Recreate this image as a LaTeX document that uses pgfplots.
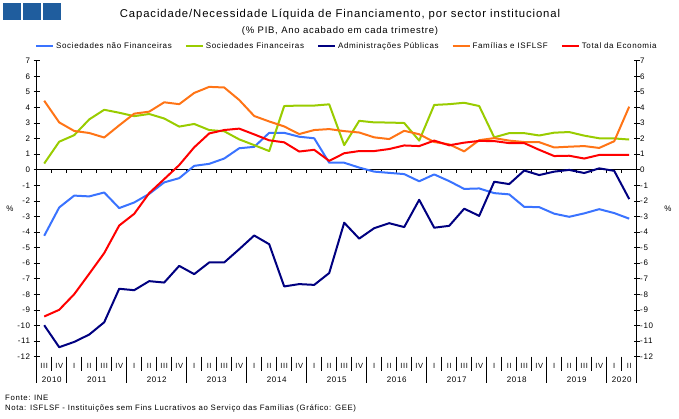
\documentclass[border=0pt]{standalone}
\usepackage{fontspec}
\setmainfont{Liberation Sans}[LetterSpace=8]
\usepackage{pgfplots}
\usepackage{pgfplotstable}
\pgfplotsset{compat=1.18}
\definecolor{cBlue}{HTML}{3A73FF}
\definecolor{cGreen}{HTML}{99CC00}
\definecolor{cNavy}{HTML}{000080}
\definecolor{cOrange}{HTML}{FF7416}
\definecolor{cRed}{HTML}{FF0000}
\definecolor{cSq}{HTML}{1F5D9E}
\pgfplotstableread{
x snf sf ap fam tot
0 -4.24 0.40 -9.98 4.43 -9.42
1 -2.42 1.80 -11.39 3.04 -8.99
2 -1.66 2.22 -11.05 2.49 -7.99
3 -1.71 3.23 -10.58 2.36 -6.68
4 -1.46 3.85 -9.79 2.07 -5.35
5 -2.46 3.66 -7.64 2.85 -3.58
6 -2.10 3.44 -7.73 3.60 -2.83
7 -1.55 3.58 -7.15 3.73 -1.50
8 -0.81 3.29 -7.24 4.33 -0.60
9 -0.54 2.77 -6.17 4.21 0.30
10 0.25 2.94 -6.70 4.93 1.44
11 0.38 2.55 -5.95 5.32 2.33
12 0.72 2.47 -5.95 5.28 2.55
13 1.38 1.95 -5.10 4.48 2.64
14 1.47 1.58 -4.22 3.45 2.27
15 2.37 1.20 -4.78 3.10 1.89
16 2.37 4.09 -7.49 2.78 1.76
17 2.12 4.12 -7.34 2.29 1.17
18 2.02 4.12 -7.39 2.55 1.28
19 0.45 4.20 -6.63 2.61 0.57
20 0.45 1.58 -3.40 2.48 1.06
21 0.14 3.14 -4.42 2.39 1.20
22 -0.12 3.04 -3.75 2.08 1.20
23 -0.20 3.03 -3.43 1.97 1.33
24 -0.28 3.00 -3.68 2.50 1.56
25 -0.74 1.87 -1.93 2.28 1.52
26 -0.30 4.16 -3.72 1.78 1.87
27 -0.73 4.21 -3.60 1.63 1.57
28 -1.23 4.30 -2.50 1.18 1.74
29 -1.20 4.09 -2.96 1.90 1.85
30 -1.50 2.08 -0.77 2.03 1.84
31 -1.58 2.35 -0.92 1.87 1.71
32 -2.38 2.35 -0.05 1.78 1.71
33 -2.40 2.20 -0.34 1.77 1.28
34 -2.82 2.38 -0.12 1.43 0.88
35 -3.02 2.42 -0.01 1.48 0.90
36 -2.80 2.19 -0.21 1.52 0.72
37 -2.53 2.02 0.09 1.40 0.95
38 -2.78 2.01 -0.07 1.83 0.95
39 -3.14 1.94 -1.88 4.05 0.95
}\data
\begin{document}
\begin{tikzpicture}
\path (0pt,0pt) rectangle (679pt,418pt);
\foreach \xa in {3,23,43} \fill[cSq] (\xa pt,398pt) rectangle ++(18pt,17pt);
\node at (340pt,403pt) {\fontsize{11.3}{13}\selectfont Capacidade/Necessidade Líquida de Financiamento, por sector institucional};
\node at (340pt,387pt) {\fontsize{9.5}{11}\selectfont (\% PIB, Ano acabado em cada trimestre)};
\node at (10pt,209pt) {\fontsize{8}{9}\selectfont \%};
\node at (668pt,209pt) {\fontsize{8}{9}\selectfont \%};
\node[anchor=west,inner sep=0pt] at (5pt,20pt) {\fontsize{7.8}{9}\selectfont Fonte: INE};
\node[anchor=west,inner sep=0pt] at (5pt,10pt) {\fontsize{7.8}{9}\selectfont Nota: ISFLSF - Instituições sem Fins Lucrativos ao Serviço das Famílias (Gráfico: GEE)};
\begin{axis}[
  at={(36.7pt,61.3pt)}, anchor=south west, scale only axis,
  width=600pt, height=296pt,
  xmin=-0.5, xmax=39.5, ymin=-12, ymax=7,
  separate axis lines,
  x axis line style={draw=none},
  y axis line style={line width=1pt},
  ytick={-12,-11,...,7},
  tick align=center, major tick length=6pt,
  ytick style={line width=0.8pt, black},
  xtick={0,...,39},
  xticklabels={III,IV,I,II,III,IV,I,II,III,IV,I,II,III,IV,I,II,III,IV,I,II,III,IV,I,II,III,IV,I,II,III,IV,I,II,III,IV,I,II,III,IV,I,II},
  xtick style={draw=none},
  xticklabel style={font=\fontsize{7.5}{8}\selectfont},
  yticklabel style={font=\fontsize{8}{9}\selectfont},
  /pgf/number format/assume math mode=true,
  clip=false,
  legend columns=5,
  legend style={at={(axis description cs:0.517,1)}, anchor=center, yshift=14.7pt,
    draw=none, fill=none, font=\fontsize{8}{9}\selectfont,
    /tikz/every even column/.append style={column sep=11pt}},
  legend image code/.code={\draw[#1, line width=2pt] (0pt,0pt) -- (17pt,0pt);},
  every axis plot/.append style={line width=2pt, line join=round},
]
\draw[line width=0.8pt] (axis cs:-0.5,0) -- (axis cs:39.5,0);
\pgfplotsinvokeforeach{0.5,1.5,...,38.5}{\draw[line width=0.7pt] (axis cs:#1,0) -- ([yshift=-3.5pt]axis cs:#1,0);}
\pgfplotsinvokeforeach{0.5,1.5,...,38.5}{\draw[line width=0.7pt] (axis cs:#1,-12) -- ([yshift=-14pt]axis cs:#1,-12);}
\pgfplotsinvokeforeach{-0.5,1.5,5.5,...,37.5,39.5}{\draw[line width=0.8pt] (axis cs:#1,-12) -- ([yshift=-26pt]axis cs:#1,-12);}
\addplot[cBlue] table[x=x,y=snf] {\data};
\addlegendentry{Sociedades não Financeiras}
\addplot[cGreen] table[x=x,y=sf] {\data};
\addlegendentry{Sociedades Financeiras}
\addplot[cNavy] table[x=x,y=ap] {\data};
\addlegendentry{Administrações Públicas}
\addplot[cOrange] table[x=x,y=fam] {\data};
\addlegendentry{Famílias e ISFLSF}
\addplot[cRed] table[x=x,y=tot] {\data};
\addlegendentry{Total da Economia}
\foreach \yr/\cx in {2010/0.5,2011/3.5,2012/7.5,2013/11.5,2014/15.5,2015/19.5,2016/23.5,2017/27.5,2018/31.5,2019/35.5,2020/38.5}{
  \edef\tmp{\noexpand\node[font=\noexpand\fontsize{8}{9}\noexpand\selectfont] at (axis cs:\cx,-12) [yshift=-23.5pt] {\yr};}\tmp
}
\end{axis}
\begin{axis}[
  at={(36.7pt,61.3pt)}, anchor=south west, scale only axis,
  width=600pt, height=296pt,
  xmin=-0.5, xmax=39.5, ymin=-12, ymax=7,
  hide x axis, axis line style={draw=none},
  ytick={-12,-11,...,7}, ytick style={draw=none},
  yticklabel pos=right,
  yticklabel style={font=\fontsize{8}{9}\selectfont},
  /pgf/number format/assume math mode=true,
]
\addplot[draw=none, forget plot] coordinates {(0,0)};
\end{axis}
\end{tikzpicture}
\end{document}
